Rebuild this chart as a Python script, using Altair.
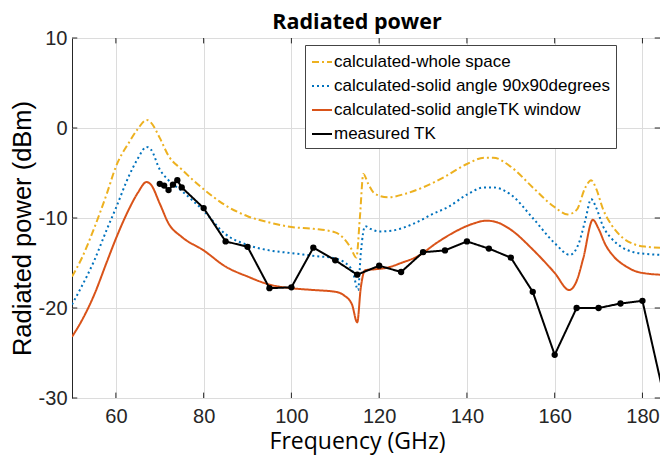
import altair as alt
import pandas as pd

series_names = ["calculated-whole space", "calculated-solid angle 90x90degrees",
                "calculated-solid angleTK window", "measured TK"]
colors = ["#EDB120", "#0072BD", "#D95319", "#000000"]
dashes = [[7, 3, 2, 3], [2, 3], [1, 0], [1, 0]]

f_whole = [50, 52, 55, 58, 60, 63, 65, 67, 68, 70, 72, 75, 80, 85, 90, 95, 100, 105, 110, 112, 113.5, 114.8,
           115.6, 116.4, 117.5, 119, 122, 126, 130, 135, 140, 144, 146, 150, 155, 160, 163, 165, 167, 168.3,
           169.5, 171, 173, 175.5, 178, 181, 184]
p_whole = [-16.5, -14.7, -11.2, -7.2, -4.3, -1.6, -0.1, 0.9, 0.6, -1.1, -3.1, -4.6, -6.8, -8.6, -9.8, -10.5,
           -11.0, -11.2, -11.6, -12.3, -13.3, -14.4, -10.0, -5.1, -6.2, -7.3, -7.7, -7.3, -6.6, -5.4, -4.0,
           -3.3, -3.3, -4.3, -6.6, -8.8, -9.6, -9.1, -6.6, -5.8, -6.8, -9.0, -10.8, -12.2, -12.9, -13.2, -13.3]

f_solid = [50, 52, 55, 58, 60, 63, 65, 67, 68, 70, 72, 75, 80, 85, 90, 95, 100, 105, 110, 112, 114, 115.2,
           115.8, 116.8, 118, 120, 123, 128, 132, 136, 140, 144, 146, 150, 155, 160, 163.5, 165.5, 167, 168.3,
           169.5, 171, 173, 175.5, 178, 181, 184]
p_solid = [-19.6, -17.8, -14.8, -11.2, -8.9, -5.3, -3.4, -2.1, -2.4, -4.6, -5.8, -7.0, -9.2, -11.8, -13.0,
           -13.6, -13.9, -14.2, -14.5, -14.9, -16.0, -18.0, -14.0, -10.9, -11.2, -11.5, -11.4, -10.6, -9.6,
           -8.7, -7.4, -6.6, -6.6, -7.4, -10.0, -12.8, -14.1, -12.8, -10.2, -7.9, -8.9, -10.9, -12.3, -13.3,
           -13.8, -14.0, -14.1]

f_tk = [50, 52, 55, 58, 60, 63, 65, 67, 68, 70, 72, 75, 80, 85, 90, 95, 100, 105, 110, 112, 113.8, 115,
        115.8, 116.8, 119, 122, 125, 129, 133, 137, 141, 144.5, 147, 150, 155, 160, 163.3, 165, 166.5, 168.7,
        170, 171.5, 173.5, 176, 179, 184]
p_tk = [-23.2, -21.6, -18.6, -14.8, -12.3, -9.0, -7.2, -6.0, -6.3, -8.4, -10.6, -12.1, -13.6, -15.4, -16.5,
        -17.4, -17.8, -18.0, -18.2, -18.6, -19.6, -21.6, -17.8, -15.8, -15.7, -15.5, -15.0, -14.2, -12.8,
        -11.6, -10.7, -10.3, -10.5, -11.3, -13.5, -16.1, -18.0, -17.0, -14.5, -10.2, -11.2, -12.9, -14.3,
        -15.3, -16.0, -16.3]

f_meas = [70, 71, 72, 73, 74, 75, 80, 85, 90, 95, 100, 105, 110, 115, 120, 125, 130, 135, 140, 145, 150,
          155, 160, 165, 170, 175, 180, 185]
p_meas = [-6.2, -6.4, -6.9, -6.3, -5.8, -6.6, -8.9, -12.6, -13.2, -17.8, -17.7, -13.3, -14.7, -16.3, -15.3,
          -16.0, -13.8, -13.6, -12.6, -13.4, -14.4, -18.2, -25.2, -20.0, -20.0, -19.5, -19.2, -30.0]

x_ticks = [60, 80, 100, 120, 140, 160, 180]
y_ticks = [-30, -20, -10, 0, 10]

calc_rows = []
for name, fs, ps in zip(series_names[:3], [f_whole, f_solid, f_tk], [p_whole, p_solid, p_tk]):
    for f, p in zip(fs, ps):
        calc_rows.append({"series": name, "f": f, "p": p})
calc_df = pd.DataFrame(calc_rows)
meas_df = pd.DataFrame({"series": series_names[3], "f": f_meas, "p": p_meas})

x_scale = alt.Scale(domain=[50, 184], nice=False, zero=False)
y_scale = alt.Scale(domain=[-30, 10], nice=False, zero=False)

x_axis = alt.Axis(values=x_ticks, title="Frequency (GHz)", labelPadding=8, titlePadding=4,
                  labelFont="Liberation Sans", labelFontSize=20, labelColor="#262626",
                  titleFont="Open Sans", titleFontSize=23, titleFontWeight="normal", titleColor="#000000",
                  titleX=285, domain=False, ticks=False, gridColor="#dcdcdc", gridWidth=1)
y_axis = alt.Axis(values=y_ticks, title="Radiated power (dBm)", labelPadding=5, titlePadding=3,
                  labelFont="Liberation Sans", labelFontSize=20, labelColor="#262626",
                  titleFont="Liberation Sans", titleFontSize=25.5, titleFontWeight="normal",
                  titleColor="#000000", labelExpr="'' + datum.value", titleY=190,
                  domain=False, ticks=False, gridColor="#dcdcdc", gridWidth=1)

legend = alt.Legend(title=None, orient="none", legendX=233, legendY=7, strokeColor="#444444",
                    fillColor="white", padding=6, rowPadding=5, labelFont="Liberation Sans",
                    labelFontSize=17, labelColor="#000000", symbolType="stroke", symbolSize=400,
                    symbolStrokeWidth=2, labelOffset=1, cornerRadius=0, labelLimit=500)

color_enc = alt.Color("series:N", scale=alt.Scale(domain=series_names, range=colors), legend=legend)
dash_enc = alt.StrokeDash("series:N", scale=alt.Scale(domain=series_names, range=dashes), legend=legend)

calc = alt.Chart(calc_df).mark_line(strokeWidth=2, clip=True, interpolate="monotone").encode(
    x=alt.X("f:Q", scale=x_scale, axis=x_axis),
    y=alt.Y("p:Q", scale=y_scale, axis=y_axis),
    color=color_enc,
    strokeDash=dash_enc,
    detail="series:N",
)

meas_line = alt.Chart(meas_df).mark_line(strokeWidth=2, clip=True).encode(
    x=alt.X("f:Q", scale=x_scale, axis=x_axis),
    y=alt.Y("p:Q", scale=y_scale, axis=y_axis),
    color=color_enc,
    strokeDash=dash_enc,
)

meas_pts = alt.Chart(meas_df).mark_point(filled=True, size=40, opacity=1, clip=True,
                                         color="#000000").encode(
    x="f:Q",
    y="p:Q",
)

tick_x_df = pd.DataFrame({"t": x_ticks})
tick_y_df = pd.DataFrame({"t": y_ticks})
tick_color = "#262626"
bottom_ticks = alt.Chart(tick_x_df).mark_rule(color=tick_color, strokeWidth=1).encode(
    x="t:Q", y=alt.datum(-30), y2=alt.datum(-29.4))
top_ticks = alt.Chart(tick_x_df).mark_rule(color=tick_color, strokeWidth=1).encode(
    x="t:Q", y=alt.datum(10), y2=alt.datum(9.4))
left_ticks = alt.Chart(tick_y_df).mark_rule(color=tick_color, strokeWidth=1).encode(
    y="t:Q", x=alt.datum(50), x2=alt.datum(51.2))
right_ticks = alt.Chart(tick_y_df).mark_rule(color=tick_color, strokeWidth=1).encode(
    y="t:Q", x=alt.datum(184), x2=alt.datum(182.8))

chart = alt.layer(calc, meas_line, meas_pts, bottom_ticks, top_ticks, left_ticks, right_ticks).properties(
    width=588, height=360,
    title=alt.TitleParams("Radiated power", font="Open Sans", fontSize=21.5, fontWeight="bold",
                          color="#000000", anchor="middle", dx=-9, offset=-5),
    autosize=alt.AutoSizeParams(type="none"),
    padding={"left": 72, "top": 38, "right": 0, "bottom": 60},
    background="white",
).configure_view(
    stroke="#262626", strokeWidth=1
)

chart.save("out.html", embed_options={"renderer": "svg", "actions": False})
